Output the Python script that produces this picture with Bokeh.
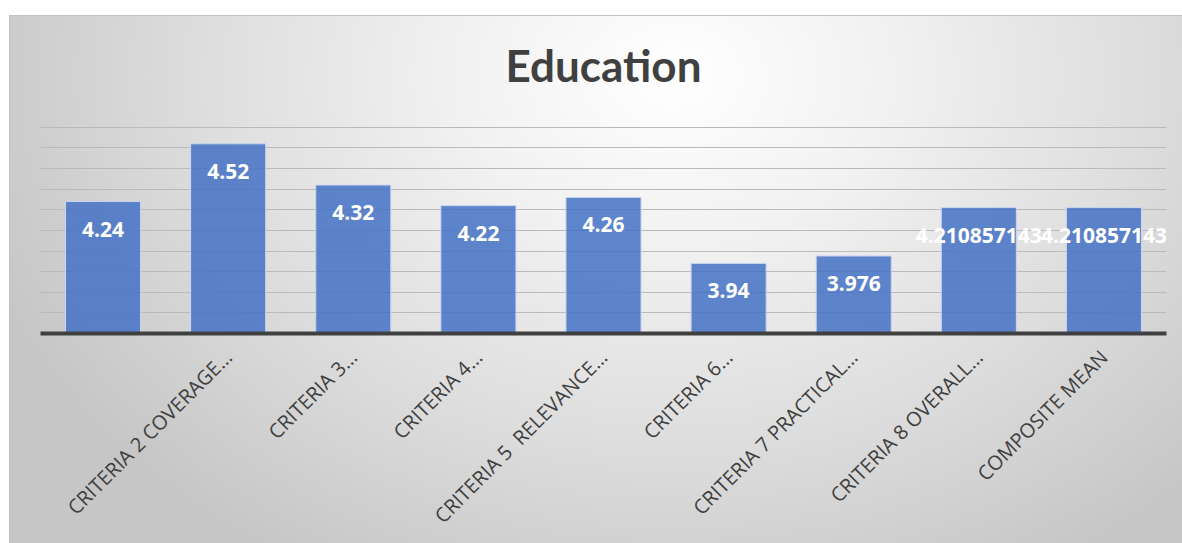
import numpy as np
from bokeh.plotting import figure
from bokeh.models import ColumnDataSource, LabelSet, Range1d, FixedTicker
from bokeh.embed import file_html
from bokeh.resources import INLINE
from math import pi

# ---- data ----
categories = ["", "CRITERIA 2 COVERAGE…", "CRITERIA 3…", "CRITERIA 4…",
              "CRITERIA 5\u00a0 RELEVANCE…", "CRITERIA 6…", "CRITERIA 7 PRACTICAL…",
              "CRITERIA 8 OVERALL…", "COMPOSITE MEAN"]
values = [4.24, 4.52, 4.32, 4.22, 4.26, 3.94, 3.976, 4.210857143, 4.210857143]
y_min, y_max, y_step = 3.6, 4.6, 0.1
title_text = "Education"

idx = list(range(len(categories)))
src = ColumnDataSource(dict(x=idx, top=values, label=[str(v) for v in values]))

p = figure(width=1182, height=543, output_backend="svg", toolbar_location=None,
           x_range=Range1d(-0.5, len(categories) - 0.5),
           y_range=Range1d(y_min, y_max + 0.004),
           min_border_left=40, min_border_right=16, min_border_top=126,
           min_border_bottom=210, title=title_text)

p.border_fill_color = None
p.background_fill_color = None
p.outline_line_color = None
p.styles = {
    "background": (
        "linear-gradient(#c2c2c2,#c2c2c2) 9px 15px / 100% 1px no-repeat,"
        "linear-gradient(#c2c2c2,#c2c2c2) 9px 15px / 1px 100% no-repeat,"
        "linear-gradient(#ffffff,#ffffff) 0 0 / 100% 15px no-repeat,"
        "linear-gradient(#ffffff,#ffffff) 0 0 / 9px 100% no-repeat,"
        "radial-gradient(ellipse 62% 105% at 57% 14%, #ffffff 0%, #f1f1f1 30%, #dddddd 65%, #c6c6c6 100%)"
    )
}

p.title.align = "center"
p.title.text_font = "Lato"
p.title.text_font_size = "44px"
p.title.text_font_style = "bold"
p.title.text_color = "#404040"
p.title.standoff = 71

p.vbar(x="x", top="top", bottom=y_min, width=0.6, source=src,
       fill_color="#4472C4", fill_alpha=0.85,
       line_color="#c9d6ef", line_width=1)

labels = LabelSet(x="x", y="top", text="label", source=src,
                  y_offset=-27.5, text_align="center", text_baseline="middle",
                  text_color="white", text_font_size="21px",
                  text_font_style="bold")
labels.text_font = {"value": "Open Sans"}
p.add_layout(labels)

# y axis hidden, gridlines kept
p.yaxis.visible = False
p.ygrid.ticker = FixedTicker(ticks=list(np.round(np.arange(y_min + y_step, y_max + 1e-9, y_step), 1)))
p.ygrid.grid_line_color = "#bababa"
p.ygrid.grid_line_width = 1.2
p.xgrid.visible = False

xa = p.xaxis[0]
xa.ticker = FixedTicker(ticks=idx)
xa.major_label_overrides = {i: c for i, c in zip(idx, categories)}
xa.major_label_orientation = pi / 4
xa.major_tick_line_color = None
xa.minor_tick_line_color = None
xa.axis_line_color = "#404040"
xa.axis_line_width = 4
xa.major_label_text_font = "Open Sans"
xa.major_label_text_font_size = "20px"
xa.major_label_text_color = "#3f3f3f"
xa.major_label_standoff = 14

open("out.html", "w").write(file_html(p, INLINE))
